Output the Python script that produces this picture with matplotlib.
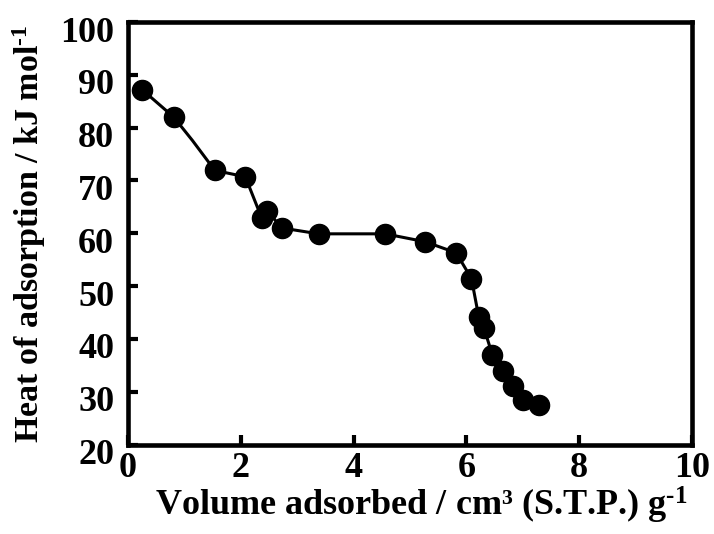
import matplotlib
matplotlib.use('Agg')
import matplotlib.pyplot as plt
import matplotlib.transforms as mtransforms

# volume adsorbed (cm3 g-1) and heat of adsorption (kJ/mol)
volume = [0.25, 0.81, 1.54, 2.08, 2.37, 2.47, 2.73, 3.38, 4.56, 5.27,
          5.82, 6.09, 6.22, 6.31, 6.46, 6.65, 6.83, 7.01, 7.28]
heat = [87.2, 82.0, 71.9, 70.7, 62.9, 64.2, 61.0, 59.9, 59.9, 58.4,
        56.3, 51.4, 44.1, 42.1, 37.0, 33.9, 31.1, 28.4, 27.5]

# drawn curve through the points (has one extra bend between 2nd and 3rd point)
curve_x = [0.25, 0.81, 1.14, 1.54, 2.08, 2.37, 2.47, 2.73, 3.38, 4.56,
           5.27, 5.82, 6.09, 6.22, 6.31, 6.46, 6.65, 6.83, 7.01, 7.28]
curve_y = [87.2, 82.0, 77.6, 71.9, 70.7, 62.9, 64.2, 61.0, 59.9, 59.9,
           58.4, 56.3, 51.4, 44.1, 42.1, 37.0, 33.9, 31.1, 28.4, 27.5]

x_ticks = [0, 2, 4, 6, 8, 10]
y_ticks = [20, 30, 40, 50, 60, 70, 80, 90, 100]

plt.rcParams['font.family'] = 'Liberation Serif'
plt.rcParams['font.weight'] = 'bold'
plt.rcParams['mathtext.fontset'] = 'custom'
plt.rcParams['mathtext.rm'] = 'Liberation Serif:bold'
plt.rcParams['mathtext.it'] = 'Liberation Serif:bold'
plt.rcParams['mathtext.bf'] = 'Liberation Serif:bold'

fig = plt.figure(figsize=(7.14, 5.34), dpi=100)
ax = fig.add_axes([0.1793, 0.1674, 0.7899, 0.7914])

ax.plot(curve_x, curve_y, color='black', linewidth=2.2)
ax.plot(volume, heat, linestyle='none', marker='o', markersize=14.5,
        color='black')

ax.set_xlim(0, 10)
ax.set_ylim(20, 100)
ax.set_xticks(x_ticks)
ax.set_yticks(y_ticks)

for sp in ax.spines.values():
    sp.set_linewidth(3.3)
ax.tick_params(direction='in', length=7.5, width=3, labelsize=26,
               top=False, right=False)
ax.tick_params(axis='x', pad=5)
ax.tick_params(axis='y', pad=10)

# y tick labels sit a bit below their ticks in the original
offset = mtransforms.ScaledTranslation(0, -7 / 100, fig.dpi_scale_trans)
for lbl in ax.get_yticklabels():
    lbl.set_transform(lbl.get_transform() + offset)

ax.set_xlabel('Volume adsorbed / cm\u00b3 (S.T.P.) g$^{\u2010 1}$', fontsize=26,
              fontweight='bold', labelpad=0)
ax.xaxis.label.set_x(0.52)
ax.set_ylabel('Heat of adsorption / kJ mol$^{\u2010 1}$', fontsize=24.5,
              fontweight='bold', labelpad=9)

plt.savefig('out.png', dpi=100)
